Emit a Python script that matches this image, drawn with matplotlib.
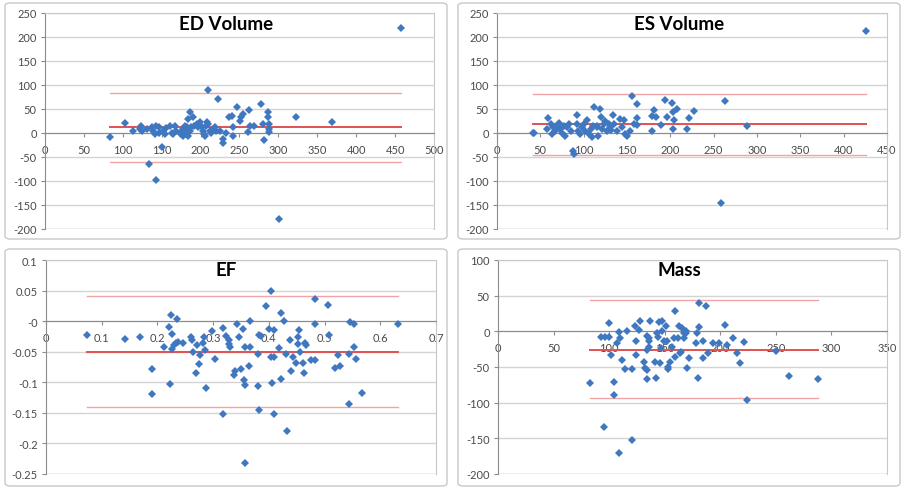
import numpy as np
import matplotlib
matplotlib.use('Agg')
import matplotlib.pyplot as plt
from matplotlib.patches import FancyBboxPatch
from matplotlib.ticker import FuncFormatter

plt.rcParams['font.family'] = ['Lato', 'DejaVu Sans']
plt.rcParams['axes.unicode_minus'] = False

# ED volume: mean of the two methods vs difference
ed_x = [84, 103, 113, 122, 124, 125,
        131, 134, 137, 139, 141, 143, 143, 146, 147, 150,
        152, 154, 156, 161, 163, 165, 167, 169, 173, 175,
        178, 178, 180, 181, 182, 183, 184, 184, 186, 186,
        188, 190, 191, 195, 197, 199, 201, 203, 205, 206,
        207, 208, 210, 210, 212, 214, 216, 218, 220, 223,
        225, 229, 229, 233, 237, 240, 242, 242, 247, 251,
        252, 254, 261, 262, 263, 268, 277, 280, 281, 287,
        287, 288, 288, 288, 301, 322, 369, 457]
ed_y = [-8, 20, 5, 8, 15, 5,
        8, -65, 12, 5, -2, -97, 15, 1, 12, -30,
        5, -2, 10, 15, 1, -2, 15, 5, 1, -2,
        8, -6, 15, -2, 12, 5, -6, 29, 43, 5,
        12, 33, 15, 19, 12, 22, 15, 5, -2, -6,
        15, 22, 19, 89, 5, 1, 8, 12, 5, 71,
        5, -20, -13, 1, 33, 36, -6, 12, 54, 26,
        33, 40, 3, 47, 15, 15, 61, 19, -15, 43,
        33, 19, 8, 3, -179, 33, 22, 218]
ed_lines = [12.6, 84, -61]  # mean, upper limit, lower limit

# ES volume
es_x = [41.5, 43, 58, 59, 62, 63, 65, 67, 69, 71,
        73, 75, 77, 79, 81, 83, 85, 88, 89, 92,
        92, 94, 96, 98, 100, 102, 104, 106, 108, 110,
        111, 112, 115, 115, 117, 119, 120, 121, 123, 125,
        127, 129, 130, 132, 134, 135, 138, 142, 144, 146,
        148, 150, 154, 156, 158, 161, 162, 162, 179, 179,
        181, 184, 189, 194, 196, 202, 203, 203, 204, 208,
        219, 222, 227, 258, 263, 288, 426]
es_y = [1, 1, 8, 31, 19, -2, 12, 5, 15, 21,
        8, 1, 15, -6, 12, 19, 5, -37, -44, 38,
        19, 5, -2, 12, 19, 5, 28, -2, 8, -9,
        15, 54, 12, 15, -6, 49, 33, 8, 19, 26,
        5, 19, 12, 7, 38, 19, 5, 29, 12, 28,
        -2, -6, 5, 77, 19, 61, 31, 17, 5, 36,
        47, 33, 17, 68, 34, 63, 43, 8, 28, 50,
        8, 31, 45, -146, 67, 14, 212]
es_lines = [19, 82, -46]

# EF
ef_x = [0.073, 0.141, 0.168, 0.190, 0.191, 0.212, 0.221, 0.223, 0.225, 0.226,
        0.227, 0.230, 0.233, 0.235, 0.237, 0.246, 0.260, 0.262, 0.264, 0.269,
        0.271, 0.275, 0.277, 0.282, 0.284, 0.286, 0.288, 0.298, 0.304, 0.317,
        0.318, 0.323, 0.328, 0.329, 0.330, 0.337, 0.340, 0.342, 0.347, 0.350,
        0.354, 0.356, 0.357, 0.358, 0.358, 0.364, 0.366, 0.366, 0.380, 0.380,
        0.383, 0.383, 0.386, 0.395, 0.401, 0.404, 0.404, 0.406, 0.410, 0.410,
        0.410, 0.418, 0.421, 0.422, 0.427, 0.431, 0.433, 0.438, 0.440, 0.443,
        0.449, 0.452, 0.453, 0.454, 0.456, 0.461, 0.463, 0.464, 0.467, 0.476,
        0.482, 0.483, 0.483, 0.507, 0.508, 0.519, 0.525, 0.527, 0.543, 0.544,
        0.546, 0.552, 0.553, 0.556, 0.567, 0.631]
ef_y = [-0.023, -0.029, -0.026, -0.119, -0.078, -0.043, -0.010, -0.103, 0.010, -0.021,
        -0.046, -0.039, -0.036, 0.004, -0.034, -0.035, -0.026, -0.031, -0.050, -0.085,
        -0.039, -0.070, -0.055, -0.036, -0.026, -0.048, -0.110, -0.016, -0.062, -0.152,
        -0.012, -0.024, -0.038, -0.031, -0.042, -0.088, -0.082, -0.004, -0.026, -0.078,
        -0.013, -0.097, -0.105, -0.043, -0.232, -0.073, 0.000, -0.043, -0.054, -0.106,
        -0.145, -0.023, -0.025, 0.025, -0.013, 0.049, -0.058, -0.101, -0.058, -0.014,
        -0.152, -0.044, 0.014, -0.095, 0.000, -0.054, -0.179, -0.031, -0.081, -0.058,
        -0.069, -0.026, -0.038, -0.014, -0.050, -0.069, -0.084, -0.035, -0.039, -0.063,
        -0.063, 0.036, -0.005, 0.027, -0.023, -0.076, -0.056, -0.074, -0.054, -0.136,
        -0.002, -0.042, -0.005, -0.062, -0.117, -0.004]
ef_lines = [-0.050, 0.041, -0.141]

# Mass
mass_x = [83, 93, 95, 96, 100, 100, 102, 104, 104, 107,
          109, 109, 110, 112, 114, 116, 121, 121, 123, 124,
          124, 127, 128, 131, 132, 134, 134, 134, 134, 136,
          136, 136, 137, 141, 142, 143, 144, 145, 146, 147,
          148, 148, 149, 151, 152, 153, 153, 155, 157, 158,
          159, 159, 162, 163, 164, 165, 166, 167, 167, 169,
          169, 170, 172, 178, 179, 180, 181, 181, 184, 184,
          187, 189, 193, 199, 204, 206, 211, 215, 218, 221,
          224, 250, 262, 288]
mass_y = [-72, -8, -134, -8, 11, -8, -33, -71, -89, -17,
          -1, -170, -10, -40, -53, 0, -152, -53, 7, -13,
          -33, 2, 14, -43, -52, -54, -67, -6, -26, -13,
          -22, -10, 15, -43, -66, -2, -8, 13, -45, -23,
          14, 1, -13, 7, -13, -50, -53, -43, -22, -9,
          28, -36, -9, 8, -31, -29, 4, -9, -3, 0,
          -2, -52, -38, -17, -2, -66, 6, 40, -13, -38,
          35, -30, -16, -16, 9, -19, -10, -30, -44, -15,
          -96, -27, -62, -67]
mass_lines = [-25.6, 44, -94]

panels = [
    ('ED Volume', ed_x, ed_y, ed_lines, (0, 500, 50), (-200, 250, 50)),
    ('ES Volume', es_x, es_y, es_lines, (0, 450, 50), (-200, 250, 50)),
    ('EF', ef_x, ef_y, ef_lines, (0, 0.7, 0.1), (-0.25, 0.1, 0.05)),
    ('Mass', mass_x, mass_y, mass_lines, (0, 350, 50), (-200, 100, 50)),
]

W, H = 904, 489
fig = plt.figure(figsize=(W / 100, H / 100), dpi=100)

# pixel boxes: (left, top, right, bottom) for plot areas and chart frames
plot_boxes = [(45, 14, 434, 230), (497, 14, 887, 230),
              (46, 261, 436, 475), (498, 261, 887, 475)]
frame_boxes = [(5, 4, 447, 240), (458, 4, 900, 240),
               (5, 250, 447, 487), (458, 250, 900, 487)]

blue = '#3F78C0'
fmt = FuncFormatter(lambda v, p: '{:g}'.format(round(v, 3)))

for (title, xs, ys, lines, xr, yr), pb, fb in zip(panels, plot_boxes, frame_boxes):
    l, t, r, b = fb
    fig.patches.append(FancyBboxPatch((l / W, 1 - b / H), (r - l) / W, (b - t) / H,
                                      boxstyle='round,pad=0,rounding_size=0.006',
                                      transform=fig.transFigure, fill=False,
                                      edgecolor='#C8C8C8', linewidth=1.0))
    l, t, r, b = pb
    ax = fig.add_axes([l / W, 1 - b / H, (r - l) / W, (b - t) / H])
    ax.set_xlim(xr[0], xr[1])
    ax.set_ylim(yr[0], yr[1])
    ax.set_xticks(np.arange(xr[0], xr[1] + xr[2] / 2, xr[2]))
    ax.set_yticks(np.arange(yr[0], yr[1] + yr[2] / 2, yr[2]))
    ax.xaxis.set_major_formatter(fmt)
    ax.yaxis.set_major_formatter(fmt)
    ax.grid(axis='y', color='#D4D4D4', linewidth=1.0)
    ax.set_axisbelow(True)

    ax.spines['bottom'].set_position(('data', 0))
    ax.spines['bottom'].set_color('#8C8C8C')
    ax.spines['left'].set_color('#8C8C8C')
    ax.spines['top'].set_color('#C8C8C8')
    ax.spines['right'].set_color('#C8C8C8')
    ax.axhline(yr[0], color='#C8C8C8', linewidth=1.0, zorder=0.5)
    ax.tick_params(axis='both', labelsize=8, colors='#8C8C8C', labelcolor='#4A4A4A',
                   length=3, width=0.8)
    ax.tick_params(axis='x', pad=5)
    ax.tick_params(axis='y', pad=3)

    mean, upper, lower = lines
    x0, x1 = min(xs), max(xs)
    ax.plot([x0, x1], [upper, upper], color='#F2A3A3', linewidth=1.0, zorder=2)
    ax.plot([x0, x1], [lower, lower], color='#F2A3A3', linewidth=1.0, zorder=2)
    ax.plot([x0, x1], [mean, mean], color='#E05252', linewidth=1.4, zorder=2)
    ax.plot(xs, ys, linestyle='none', marker='D', markersize=3.7,
            color=blue, markeredgewidth=0, zorder=3)

    fl, ft, fr, fbm = fb
    fig.text((fl + fr) / 2 / W, 1 - (ft + 21) / H, title, ha='center', va='center',
             fontsize=13.5, fontweight='bold', color='#000000')

fig.savefig('out.png', dpi=100, facecolor='white')
